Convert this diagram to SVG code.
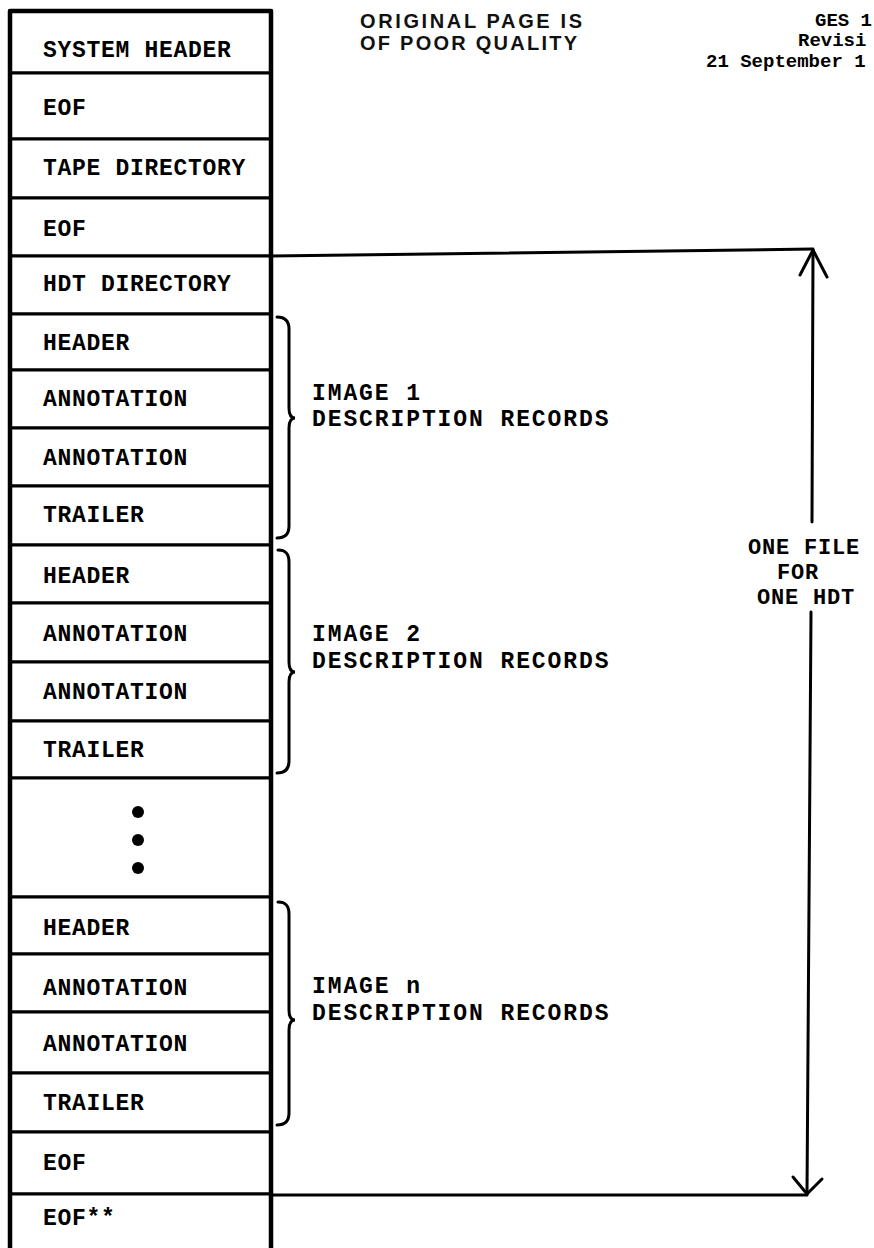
<svg xmlns="http://www.w3.org/2000/svg" width="874" height="1248" viewBox="0 0 874 1248">
<style>
.row{fill:#fff;stroke:#000;stroke-width:3}
.t{font-family:"Liberation Mono","DejaVu Sans Mono",monospace;font-weight:bold;font-size:23px;letter-spacing:0.7px;fill:#000}
.lbl{font-family:"Liberation Mono","DejaVu Sans Mono",monospace;font-weight:bold;font-size:23px;letter-spacing:1.9px;fill:#000}
.rl{font-family:"Liberation Mono","DejaVu Sans Mono",monospace;font-weight:bold;font-size:22px;letter-spacing:0.8px;fill:#000}
.hd{font-family:"Liberation Sans","Arial",sans-serif;font-weight:bold;font-size:20px;fill:#111}
.doc{font-family:"Liberation Mono","DejaVu Sans Mono",monospace;font-weight:bold;font-size:19px;fill:#000}
.ln{fill:none;stroke:#000;stroke-width:3;stroke-linecap:round;stroke-linejoin:round}
.br{fill:none;stroke:#000;stroke-width:3;stroke-linecap:round}
</style>
<rect width="874" height="1248" fill="#fff"/>

<g id="header-notes">
<text class="hd" x="360" y="28" textLength="222" lengthAdjust="spacing">ORIGINAL PAGE IS</text>
<text class="hd" x="360" y="50" textLength="217" lengthAdjust="spacing">OF POOR QUALITY</text>
<text class="doc" x="815" y="26">GES 1</text>
<text class="doc" x="798" y="46">Revisi</text>
<text class="doc" x="706" y="67">21 September 1</text>
</g>

<g id="n-system-header"><rect class="row" x="10" y="11" width="261" height="62"/><text class="t" x="43" y="57">SYSTEM HEADER</text></g>
<g id="n-eof1"><rect class="row" x="10" y="73" width="261" height="66"/><text class="t" x="43" y="115">EOF</text></g>
<g id="n-tape-directory"><rect class="row" x="10" y="139" width="261" height="59"/><text class="t" x="43" y="175">TAPE DIRECTORY</text></g>
<g id="n-eof2"><rect class="row" x="10" y="198" width="261" height="58"/><text class="t" x="43" y="236">EOF</text></g>
<g id="n-hdt-directory"><rect class="row" x="10" y="256" width="261" height="58"/><text class="t" x="43" y="291">HDT DIRECTORY</text></g>

<g id="n-header1"><rect class="row" x="10" y="314" width="261" height="56"/><text class="t" x="43" y="350">HEADER</text></g>
<g id="n-annotation1a"><rect class="row" x="10" y="370" width="261" height="58"/><text class="t" x="43" y="406">ANNOTATION</text></g>
<g id="n-annotation1b"><rect class="row" x="10" y="428" width="261" height="58"/><text class="t" x="43" y="465">ANNOTATION</text></g>
<g id="n-trailer1"><rect class="row" x="10" y="486" width="261" height="59"/><text class="t" x="43" y="522">TRAILER</text></g>

<g id="n-header2"><rect class="row" x="10" y="545" width="261" height="58"/><text class="t" x="43" y="583">HEADER</text></g>
<g id="n-annotation2a"><rect class="row" x="10" y="603" width="261" height="59"/><text class="t" x="43" y="641">ANNOTATION</text></g>
<g id="n-annotation2b"><rect class="row" x="10" y="662" width="261" height="59"/><text class="t" x="43" y="699">ANNOTATION</text></g>
<g id="n-trailer2"><rect class="row" x="10" y="721" width="261" height="57"/><text class="t" x="43" y="757">TRAILER</text></g>

<g id="n-ellipsis"><rect class="row" x="10" y="778" width="261" height="119"/>
<circle cx="138" cy="812" r="6" fill="#000"/><circle cx="138" cy="840" r="6" fill="#000"/><circle cx="138" cy="868" r="6" fill="#000"/></g>

<g id="n-headern"><rect class="row" x="10" y="897" width="261" height="57"/><text class="t" x="43" y="935">HEADER</text></g>
<g id="n-annotationna"><rect class="row" x="10" y="954" width="261" height="58"/><text class="t" x="43" y="995">ANNOTATION</text></g>
<g id="n-annotationnb"><rect class="row" x="10" y="1012" width="261" height="61"/><text class="t" x="43" y="1051">ANNOTATION</text></g>
<g id="n-trailern"><rect class="row" x="10" y="1073" width="261" height="59"/><text class="t" x="43" y="1110">TRAILER</text></g>
<g id="n-eof3"><rect class="row" x="10" y="1132" width="261" height="62"/><text class="t" x="43" y="1170">EOF</text></g>
<g id="n-eof4"><rect class="row" x="10" y="1194" width="261" height="70"/><text class="t" x="43" y="1225">EOF**</text></g>

<g id="column-frame">
<path class="ln" d="M10,11 L10,1250 M271,11 L271,1250 M10,11 L271,11" style="stroke-width:4.5"/>
</g>

<g id="brackets">
<path class="br" d="M277,317 C285,317 289,321 289,329 L289,408 C289,414 291,418 295,418 C291,418 289,422 289,428 L289,526 C289,534 285,538 277,538"/>
<path class="br" d="M278,550 C286,550 289,554 289,562 L289,662 C289,668 291,672 295,672 C291,672 289,676 289,682 L289,761 C289,769 285,773 277,773"/>
<path class="br" d="M278,902 C286,902 289,906 289,914 L289,1010 C289,1016 291,1020 295,1020 C291,1020 289,1024 289,1030 L289,1113 C289,1121 285,1125 277,1125"/>
</g>

<g id="group-labels">
<g id="l-image1"><text class="lbl" x="312" y="400">IMAGE 1</text><text class="lbl" x="312" y="426">DESCRIPTION RECORDS</text></g>
<g id="l-image2"><text class="lbl" x="312" y="641">IMAGE 2</text><text class="lbl" x="312" y="668">DESCRIPTION RECORDS</text></g>
<g id="l-imagen"><text class="lbl" x="312" y="993">IMAGE n</text><text class="lbl" x="312" y="1020">DESCRIPTION RECORDS</text></g>
</g>

<g id="connectors">
<path class="ln" d="M271,256 L813,249"/>
<path class="ln" d="M271,1195 L807,1195"/>
<path class="ln" d="M813,250 L812,522"/>
<path class="ln" d="M811,612 L807,1194"/>
<path class="ln" d="M800,275 L813,250 L827,277"/>
<path class="ln" d="M793,1177 L807,1194 L822,1179"/>
</g>

<g id="file-label">
<text class="rl" x="748" y="554">ONE FILE</text>
<text class="rl" x="777" y="579">FOR</text>
<text class="rl" x="757" y="604">ONE HDT</text>
</g>
</svg>
